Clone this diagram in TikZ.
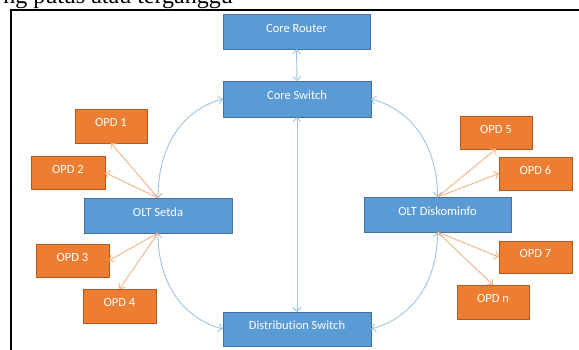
\documentclass[tikz,border=0pt]{standalone}
\usepackage{fontspec}
\setmainfont{Carlito}[Ligatures={NoCommon}]
\newfontfamily\docfont{Liberation Serif}
\usetikzlibrary{arrows.meta}
\definecolor{boxblue}{HTML}{5B9BD5}
\definecolor{boxblueline}{HTML}{41719C}
\definecolor{boxorange}{HTML}{ED7D31}
\definecolor{boxorangeline}{HTML}{AE5A21}
\definecolor{linkblue}{HTML}{9DC3E6}
\definecolor{linkorange}{HTML}{F4B183}
\begin{document}
\begin{tikzpicture}[x=1pt,y=-1pt,
  netbox/.style={draw=boxblueline,fill=boxblue,line width=0.9pt,text=white,
    inner sep=0pt,outer sep=0pt,text height=6pt,text depth=5pt,
    font=\fontsize{12.5}{14}\selectfont},
  opdbox/.style={draw=boxorangeline,fill=boxorange,line width=0.9pt,text=white,
    inner sep=0pt,outer sep=0pt,text height=6pt,text depth=5pt,
    font=\fontsize{12.5}{14}\selectfont},
  bluelink/.style={draw=linkblue,line width=0.9pt,{Straight Barb[length=4pt,width=8pt]}-{Straight Barb[length=4pt,width=8pt]}},
  orangelink/.style={draw=linkorange,line width=0.9pt,-{Straight Barb[length=4pt,width=8pt]}}]
\useasboundingbox (0,0) rectangle (579,349);
% cropped document line and frame
\node[anchor=base east,inner sep=0pt,font=\docfont\fontsize{24}{28}\selectfont] (doctext) at (233,3.5) {ng putus atau terganggu};
\draw[line width=1.8pt] (590,10) -| (11,360);
% main nodes
\node[netbox,minimum width=147pt,minimum height=35pt] (cr) at (296.5,31.5) {Core Router};
\node[netbox,minimum width=148pt,minimum height=36pt] (cs) at (297,99) {Core Switch};
\node[netbox,minimum width=148pt,minimum height=34pt] (ds) at (297,329) {Distribution Switch};
\node[netbox,minimum width=148pt,minimum height=35pt] (olts) at (158,215.5) {OLT Setda};
\node[netbox,minimum width=147pt,minimum height=35pt] (oltd) at (437.5,214.5) {OLT Diskominfo};
% OPD nodes
\node[opdbox,minimum width=72pt,minimum height=34pt] (opd1) at (111,126) {OPD 1};
\node[opdbox,minimum width=74pt,minimum height=33pt] (opd2) at (68,172.5) {OPD 2};
\node[opdbox,minimum width=73pt,minimum height=33pt] (opd3) at (72.5,260.5) {OPD 3};
\node[opdbox,minimum width=73pt,minimum height=34pt] (opd4) at (119.5,306) {OPD 4};
\node[opdbox,minimum width=72pt,minimum height=33pt] (opd5) at (496,132.5) {OPD 5};
\node[opdbox,minimum width=73pt,minimum height=33pt] (opd6) at (535.5,173.5) {OPD 6};
\node[opdbox,minimum width=73pt,minimum height=32pt] (opd7) at (535.5,257) {OPD 7};
\node[opdbox,minimum width=72pt,minimum height=34pt] (opdn) at (493,302) {OPD n};
% blue links
\draw[bluelink] (cr.south) -- (cs.north);
\draw[bluelink] (cs.south) -- (ds.north);
\draw[bluelink] (cs.west) to[out=195,in=90] (olts.north);
\draw[bluelink] (olts.south) to[out=-90,in=165] (ds.west);
\draw[bluelink] (cs.east) to[out=-15,in=90] (oltd.north);
\draw[bluelink] (oltd.south) to[out=-90,in=15] (ds.east);
% orange links
\draw[orangelink] (olts.north) -- (opd1.south);
\draw[orangelink] (olts.north) -- (opd2.east);
\draw[orangelink] (olts.south) -- (opd3.east);
\draw[orangelink] (olts.south) -- (opd4.north);
\draw[orangelink] (oltd.north) -- (opd5.south);
\draw[orangelink] (oltd.north) -- (opd6.west);
\draw[orangelink] (oltd.south) -- (opd7.west);
\draw[orangelink] (oltd.south) -- (opdn.north);
\end{tikzpicture}
\end{document}
